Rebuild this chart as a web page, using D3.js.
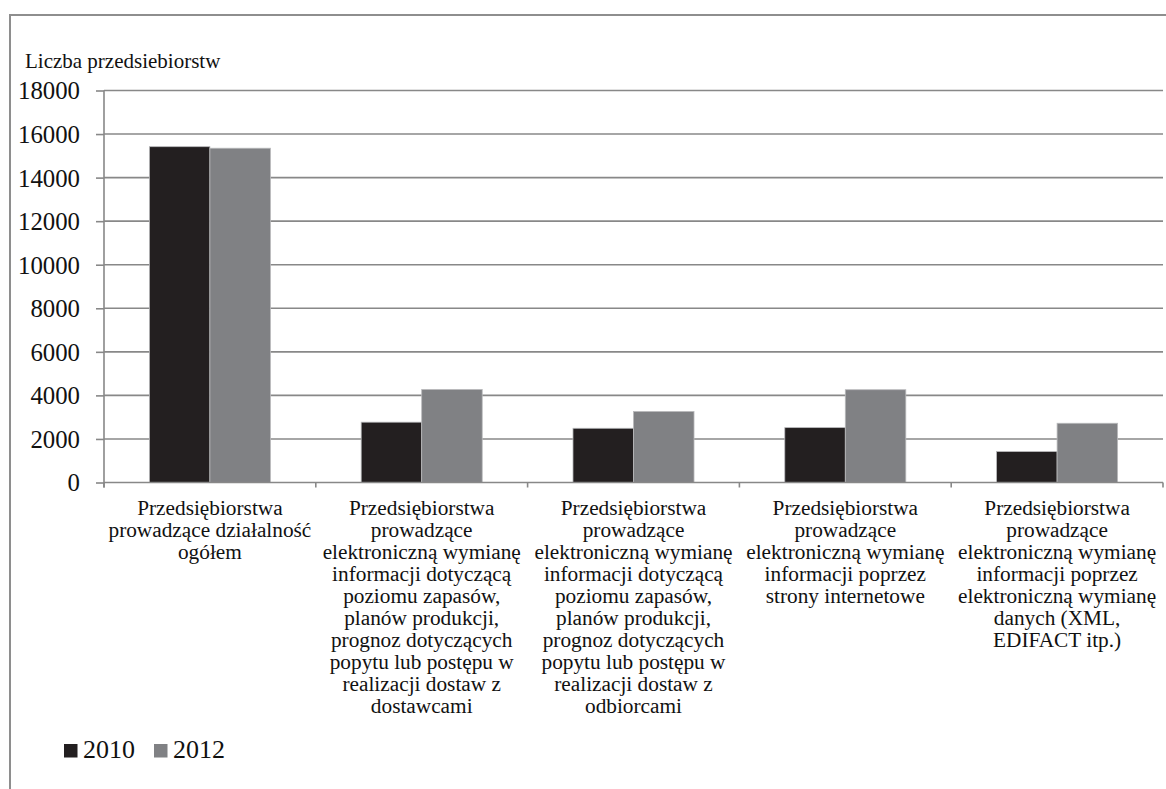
<!DOCTYPE html>
<html>
<head>
<meta charset="utf-8">
<script src="https://cdn.jsdelivr.net/npm/d3@7"></script>
<style>
  body { margin: 0; background: #fff; }
</style>
</head>
<body>
<script>
// data
var categories = [
  ["Przedsiębiorstwa", "prowadzące działalność", "ogółem"],
  ["Przedsiębiorstwa", "prowadzące", "elektroniczną wymianę", "informacji dotyczącą", "poziomu zapasów,", "planów produkcji,", "prognoz dotyczących", "popytu lub postępu w", "realizacji dostaw z", "dostawcami"],
  ["Przedsiębiorstwa", "prowadzące", "elektroniczną wymianę", "informacji dotyczącą", "poziomu zapasów,", "planów produkcji,", "prognoz dotyczących", "popytu lub postępu w", "realizacji dostaw z", "odbiorcami"],
  ["Przedsiębiorstwa", "prowadzące", "elektroniczną wymianę", "informacji poprzez", "strony internetowe"],
  ["Przedsiębiorstwa", "prowadzące", "elektroniczną wymianę", "informacji poprzez", "elektroniczną wymianę", "danych (XML,", "EDIFACT itp.)"]
];
var years = ["2010", "2012"];
var values2010 = [15420, 2770, 2490, 2520, 1420];
var values2012 = [15350, 4270, 3260, 4260, 2720];
var yTicks = [0, 2000, 4000, 6000, 8000, 10000, 12000, 14000, 16000, 18000];
var colors = ["#231f20", "#808184"];

var width = 1166, height = 789;
var plotLeft = 104, plotRight = 1163, plotTop = 90.5, plotBottom = 482.5;
var serif = "'Liberation Serif'";

var svg = d3.select("body").append("svg")
  .attr("width", width)
  .attr("height", height);

// outer frame (top and left only, the rest is cut off)
svg.append("path")
  .attr("d", "M10," + height + "V15H" + width)
  .attr("fill", "none")
  .attr("stroke", "#8e8e8e")
  .attr("stroke-width", 2);

var x0 = d3.scaleBand()
  .domain(d3.range(categories.length))
  .range([plotLeft, plotRight])
  .padding(0);

var x1 = d3.scaleBand()
  .domain(years)
  .range([0, x0.bandwidth()])
  .paddingInner(0)
  .paddingOuter(0.75);

var y = d3.scaleLinear()
  .domain([0, 18000])
  .range([plotBottom, plotTop]);

// gridlines
svg.append("g")
  .selectAll("line")
  .data(yTicks.filter(function(d) { return d > 0; }))
  .enter()
  .append("line")
  .attr("x1", plotLeft)
  .attr("x2", plotRight)
  .attr("y1", function(d) { return y(d); })
  .attr("y2", function(d) { return y(d); })
  .attr("stroke", "#888888")
  .attr("stroke-width", 1.6);

// y axis
var yAxis = svg.append("g")
  .attr("transform", "translate(" + plotLeft + ",0)")
  .call(d3.axisLeft(y).tickValues(yTicks).tickSize(8).tickPadding(16).tickFormat(d3.format("d")));
yAxis.select(".domain").remove();
yAxis.append("line")
  .attr("y1", plotTop)
  .attr("y2", plotBottom + 5)
  .attr("stroke", "#888888")
  .attr("stroke-width", 1.6);
yAxis.selectAll(".tick line").attr("stroke", "#888888").attr("stroke-width", 1.6);
yAxis.selectAll(".tick text")
  .style("font-family", serif)
  .style("font-size", "24.8px")
  .attr("fill", "#111")
  .attr("dy", "0.34em");

// bars
var data = years.map(function(yr, j) {
  var vals = j === 0 ? values2010 : values2012;
  return vals.map(function(v, i) { return { cat: i, year: yr, value: v, color: colors[j] }; });
});

svg.append("g")
  .selectAll("rect")
  .data(d3.merge(data))
  .enter()
  .append("rect")
  .attr("x", function(d) { return x0(d.cat) + x1(d.year); })
  .attr("width", x1.bandwidth())
  .attr("y", function(d) { return y(d.value); })
  .attr("height", function(d) { return y(0) - y(d.value); })
  .attr("fill", function(d) { return d.color; })
  .attr("stroke", "#b8b9bb")
  .attr("stroke-width", 0.8);

// x axis line and category ticks
svg.append("line")
  .attr("x1", plotLeft)
  .attr("x2", plotRight)
  .attr("y1", plotBottom)
  .attr("y2", plotBottom)
  .attr("stroke", "#888888")
  .attr("stroke-width", 1.6);

svg.append("g")
  .selectAll("line")
  .data(d3.range(categories.length + 1))
  .enter()
  .append("line")
  .attr("x1", function(i) { return plotLeft + i * x0.step(); })
  .attr("x2", function(i) { return plotLeft + i * x0.step(); })
  .attr("y1", plotBottom)
  .attr("y2", plotBottom + 5)
  .attr("stroke", "#888888")
  .attr("stroke-width", 1.6);

// category labels
var labels = svg.append("g")
  .selectAll("text")
  .data(categories)
  .enter()
  .append("text")
  .attr("x", function(d, i) { return x0(i) + x0.bandwidth() / 2; })
  .attr("y", 515)
  .attr("text-anchor", "middle")
  .attr("fill", "#111")
  .style("font-family", serif)
  .style("font-size", "21.3px");

labels.selectAll("tspan")
  .data(function(d) { return d; })
  .enter()
  .append("tspan")
  .attr("x", function() { return d3.select(this.parentNode).attr("x"); })
  .attr("dy", function(d, i) { return i === 0 ? 0 : 22; })
  .text(function(d) { return d; });

// axis title
svg.append("text")
  .attr("x", 25)
  .attr("y", 68)
  .attr("fill", "#111")
  .style("font-family", serif)
  .style("font-size", "21px")
  .text("Liczba przedsiebiorstw");

// legend
var legend = svg.append("g")
  .selectAll("g")
  .data(years)
  .enter()
  .append("g")
  .attr("transform", function(d, i) { return "translate(" + (64 + i * 90) + ",744)"; });

legend.append("rect")
  .attr("width", 13.5)
  .attr("height", 13.5)
  .attr("fill", function(d, i) { return colors[i]; });

legend.append("text")
  .attr("x", 19)
  .attr("y", 14)
  .attr("fill", "#111")
  .style("font-family", serif)
  .style("font-size", "26px")
  .text(function(d) { return d; });
</script>
</body>
</html>
